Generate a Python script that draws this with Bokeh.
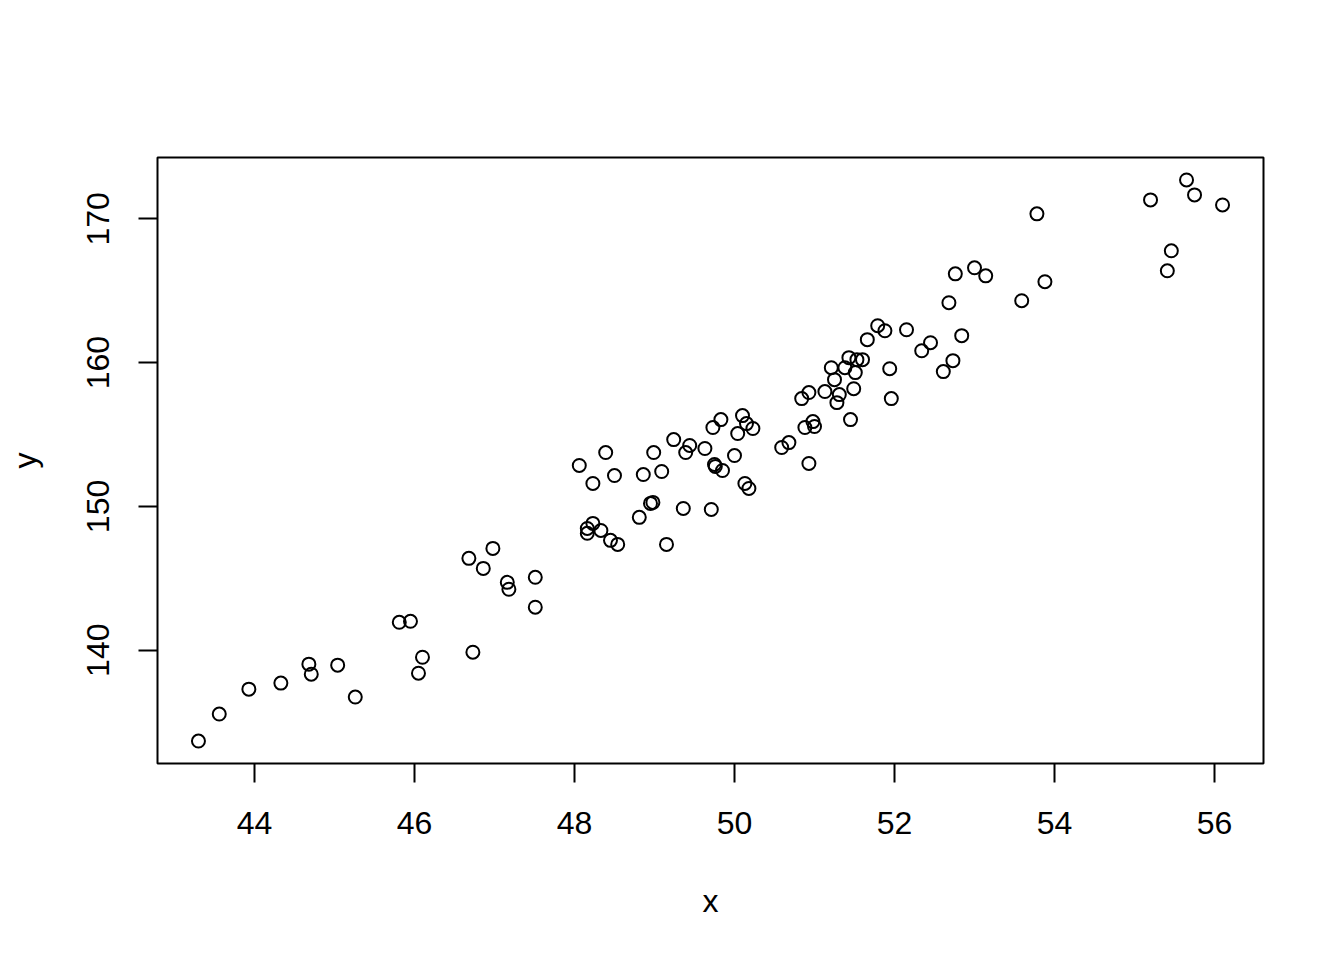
from bokeh.plotting import figure
from bokeh.models import Range1d, FixedTicker
from bokeh.embed import file_html
from bokeh.resources import INLINE

x = [43.30, 43.56, 43.93, 44.33, 44.68, 44.71, 45.04, 45.26, 45.81, 45.95,
     46.05, 46.10, 46.73, 46.68, 46.86, 46.98, 47.16, 47.18, 47.51, 47.51,
     48.06, 48.23, 48.39, 48.50, 48.16, 48.16, 48.23, 48.33, 48.45, 48.54,
     48.81, 48.86, 48.95, 48.98, 48.99, 49.09, 49.15, 49.24, 49.36, 49.39,
     49.44, 49.63, 49.73, 49.71, 49.75, 49.76, 49.83, 49.85, 50.00, 50.04,
     50.10, 50.13, 50.15, 50.18, 50.23, 50.59, 50.68, 50.84, 50.88, 50.93,
     50.93, 50.98, 51.00, 51.13, 51.21, 51.25, 51.28, 51.31, 51.38, 51.43,
     51.45, 51.49, 51.51, 51.53, 51.60, 51.66, 51.79, 51.88, 51.94, 51.96,
     52.15, 52.34, 52.45, 52.61, 52.68, 52.73, 52.76, 52.84, 53.00, 53.14,
     53.59, 53.78, 53.88, 55.20, 55.41, 55.46, 55.65, 55.75, 56.10]
y = [133.68, 135.56, 137.29, 137.71, 139.03, 138.33, 138.96, 136.74, 141.94, 142.01,
     138.40, 139.51, 139.86, 146.39, 145.69, 147.08, 144.72, 144.24, 145.07, 142.99,
     152.85, 151.60, 153.75, 152.15, 148.47, 148.13, 148.82, 148.33, 147.64, 147.36,
     149.24, 152.22, 150.21, 150.28, 153.75, 152.43, 147.36, 154.65, 149.86, 153.75,
     154.24, 154.03, 155.49, 149.79, 152.92, 152.78, 156.04, 152.50, 153.54, 155.07,
     156.32, 151.60, 155.76, 151.25, 155.42, 154.10, 154.44, 157.50, 155.49, 157.92,
     152.99, 155.90, 155.56, 157.99, 159.65, 158.82, 157.22, 157.78, 159.65, 160.35,
     156.04, 158.19, 159.31, 160.21, 160.21, 161.60, 162.57, 162.22, 159.58, 157.50,
     162.29, 160.83, 161.39, 159.38, 164.17, 160.14, 166.18, 161.88, 166.60, 166.04,
     164.31, 170.35, 165.63, 171.32, 166.39, 167.78, 172.71, 171.67, 170.97]

x_ticks = [44, 46, 48, 50, 52, 54, 56]
y_ticks = [140, 150, 160, 170]

def padded(vals, frac=0.04):
    lo, hi = min(vals), max(vals)
    d = (hi - lo) * frac
    return lo - d, hi + d

xr = padded(x)
yr = padded(y)

p = figure(output_backend="svg", toolbar_location=None,
           frame_width=1106, frame_height=606,
           min_border_left=157, min_border_top=157,
           min_border_right=73, min_border_bottom=189,
           x_range=Range1d(*xr), y_range=Range1d(*yr),
           x_axis_label="x", y_axis_label="y")

p.background_fill_color = "white"
p.border_fill_color = "white"
p.outline_line_color = "black"
p.outline_line_width = 2
p.grid.visible = False

p.xaxis.ticker = FixedTicker(ticks=x_ticks)
p.yaxis.ticker = FixedTicker(ticks=y_ticks)

for ax in (p.xaxis[0], p.yaxis[0]):
    ax.axis_line_color = None
    ax.major_tick_line_color = "black"
    ax.major_tick_line_width = 2
    ax.major_tick_out = 19
    ax.major_tick_in = 0
    ax.minor_tick_line_color = None
    ax.major_label_text_font = "Liberation Sans"
    ax.major_label_text_font_size = "32px"
    ax.major_label_text_color = "black"
    ax.axis_label_text_font = "Liberation Sans"
    ax.axis_label_text_font_size = "32px"
    ax.axis_label_text_font_style = "normal"
    ax.axis_label_text_color = "black"

p.xaxis.major_label_standoff = 29
p.xaxis.axis_label_standoff = 46
p.yaxis.major_label_orientation = "vertical"
p.yaxis.major_label_standoff = 29
p.yaxis.axis_label_standoff = 42

p.scatter(x, y, marker="circle", size=13, fill_color=None,
          line_color="black", line_width=2)

open("out.html", "w").write(file_html(p, INLINE))
